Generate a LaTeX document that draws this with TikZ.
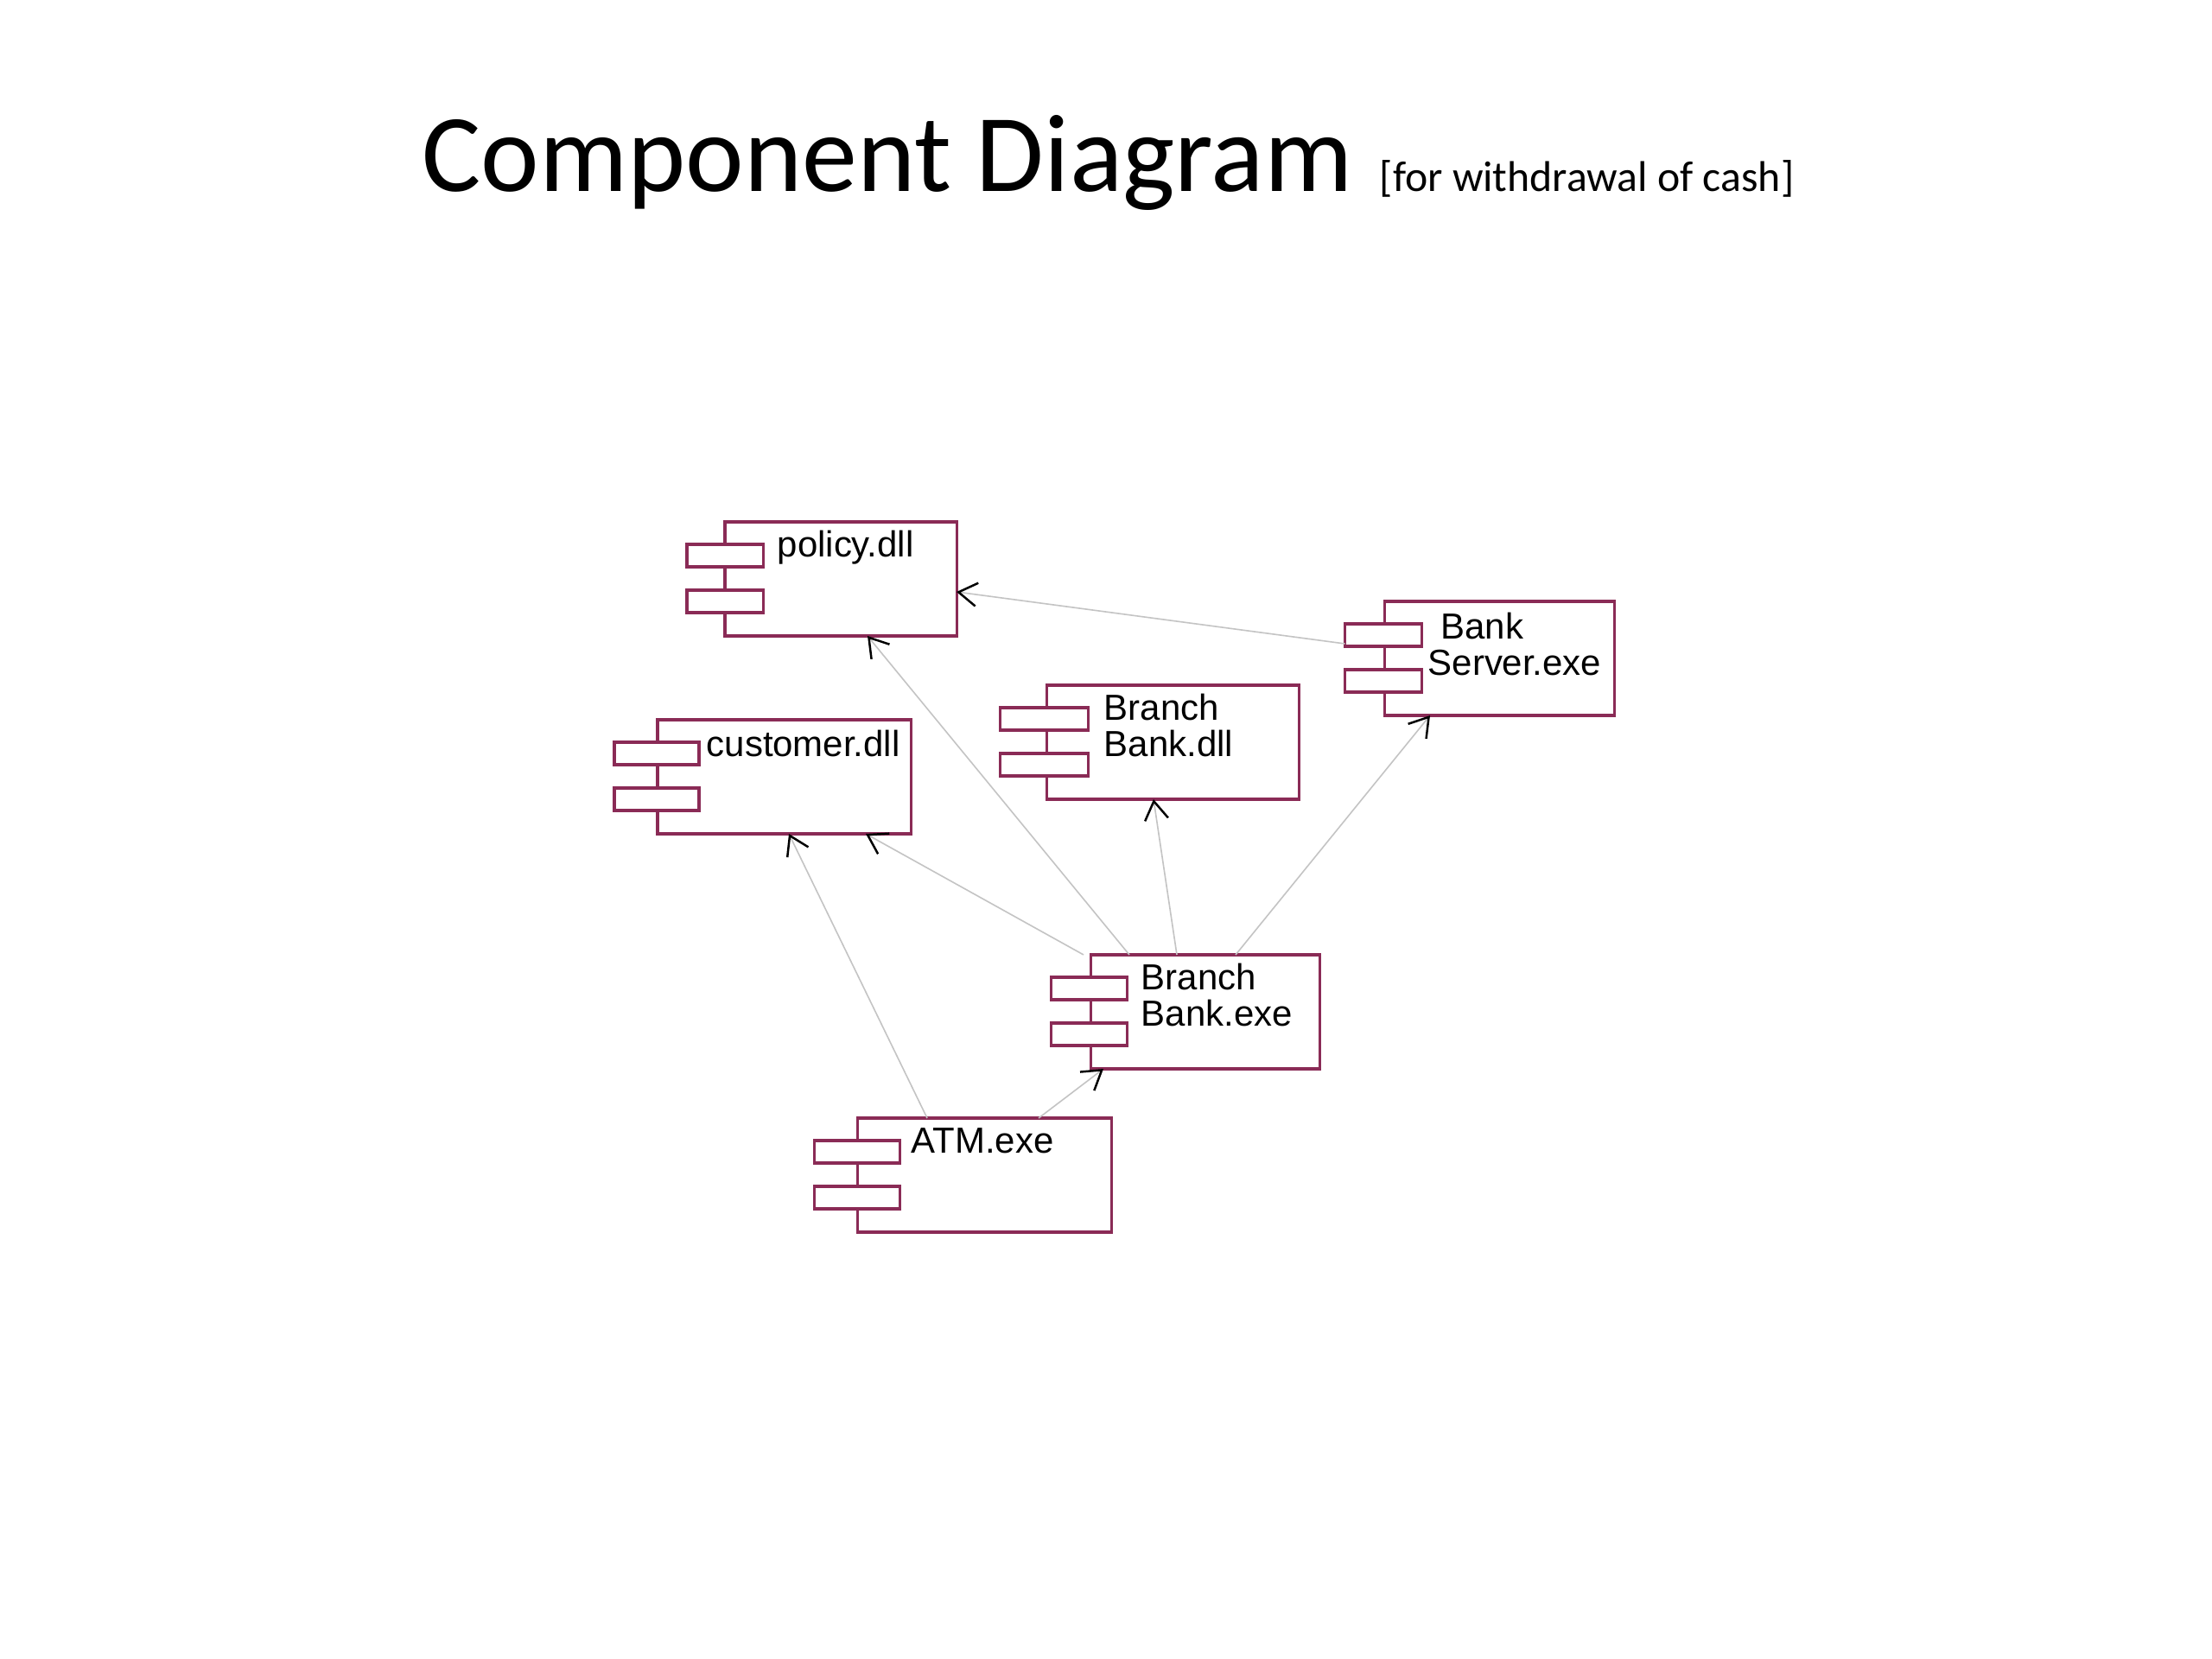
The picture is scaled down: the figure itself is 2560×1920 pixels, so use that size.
\documentclass[tikz,border=0pt]{standalone}
\usepackage{fontspec}
\setmainfont{Liberation Sans}
\newfontfamily\titlefont{Carlito}
\usetikzlibrary{arrows.meta,calc}
\definecolor{compcol}{HTML}{8A2B56}
\definecolor{depcol}{HTML}{C4C4C4}
\begin{document}
\begin{tikzpicture}[x=0.28125pt,y=-0.28125pt,
  compbox/.style={draw=compcol, fill=white, line width=0.85pt, inner sep=0pt, outer sep=0pt,
    minimum height=132*0.28125pt, minimum width=#1*0.28125pt, anchor=north west},
  partbox/.style={draw=compcol, fill=white, line width=0.85pt, inner sep=0pt, outer sep=0pt,
    minimum height=26*0.28125pt, minimum width=#1*0.28125pt},
  lbl/.style={inner sep=0pt, anchor=base west, font=\fontsize{11.8}{11.8}\selectfont},
  dep/.style={draw=depcol, line width=0.45pt,
    -{Straight Barb[length=6pt,width=7.6pt,color=black,line width=0.7pt]}},
  titlestyle/.style={inner sep=0pt, anchor=base west, font=\titlefont\fontsize{36}{43}\selectfont},
  subtitlestyle/.style={inner sep=0pt, anchor=base west, font=\titlefont\fontsize{14}{17}\selectfont}]
\useasboundingbox (0,0) rectangle (2560,1920);
\fill[white] (0,0) rectangle (2560,1920);

% title
\node[titlestyle] (title) at (488,222) {Component Diagram};
\node[subtitlestyle] (subtitle) at (1596,222) {[for withdrawal of cash]};

% components: main bodies
\node[compbox=268] (pol) at (839,604) {};
\node[compbox=266] (bsv) at (1602,696) {};
\node[compbox=292] (bbd) at (1211,793) {};
\node[compbox=293] (cus) at (761,833) {};
\node[compbox=265] (bbe) at (1262,1105) {};
\node[compbox=294] (atm) at (992,1294) {};

% small part rectangles
\node[partbox=88]  (pol-a) at ($(pol.north west)+(0,39)$) {};
\node[partbox=88]  (pol-b) at ($(pol.north west)+(0,92)$) {};
\node[partbox=89]  (bsv-a) at ($(bsv.north west)+(-1,39)$) {};
\node[partbox=89]  (bsv-b) at ($(bsv.north west)+(-1,92)$) {};
\node[partbox=102] (bbd-a) at ($(bbd.north west)+(-3,39)$) {};
\node[partbox=102] (bbd-b) at ($(bbd.north west)+(-3,92)$) {};
\node[partbox=98]  (cus-a) at ($(cus.north west)+(-1,39)$) {};
\node[partbox=98]  (cus-b) at ($(cus.north west)+(-1,92)$) {};
\node[partbox=88]  (bbe-a) at ($(bbe.north west)+(-2,39)$) {};
\node[partbox=88]  (bbe-b) at ($(bbe.north west)+(-2,92)$) {};
\node[partbox=99]  (atm-a) at ($(atm.north west)+(0,39)$) {};
\node[partbox=99]  (atm-b) at ($(atm.north west)+(0,92)$) {};

% labels
\node[lbl] (pol-t) at ($(pol.north west)+(60,41)$) {policy.dll};
\node[lbl] (bsv-t) at ($(bsv.north west)+(50,44)$) {\begin{tabular}[t]{@{}l@{}}\hspace*{4.2pt}Bank\\Server.exe\end{tabular}};
\node[lbl] (bbd-t) at ($(bbd.north west)+(66,40)$) {\begin{tabular}[t]{@{}l@{}}Branch\\Bank.dll\end{tabular}};
\node[lbl] (cus-t) at ($(cus.north west)+(56,42)$) {customer.dll};
\node[lbl] (bbe-t) at ($(bbe.north west)+(58,40)$) {\begin{tabular}[t]{@{}l@{}}Branch\\Bank.exe\end{tabular}};
\node[lbl] (atm-t) at ($(atm.north west)+(62,40)$) {ATM.exe};

% dependencies
\draw[dep] ($(bsv-a.west)+(0,10)$) -- ($(pol.north east)+(0,81)$);
\draw[dep] ($(bbe.north west)+(45,0)$) -- ($(pol.south west)+(165,0)$);
\draw[dep] ($(bbe.north west)+(-8,0)$) -- ($(cus.south east)+(-52,0)$);
\draw[dep] ($(bbe.north west)+(100,0)$) -- ($(bbd.south west)+(124,0)$);
\draw[dep] ($(bbe.north west)+(168,0)$) -- ($(bsv.south west)+(53,0)$);
\draw[dep] ($(atm.north west)+(81,0)$) -- ($(cus.south west)+(152,0)$);
\draw[dep] ($(atm.north west)+(210,0)$) -- ($(bbe.south west)+(15,0)$);
\end{tikzpicture}
\end{document}
